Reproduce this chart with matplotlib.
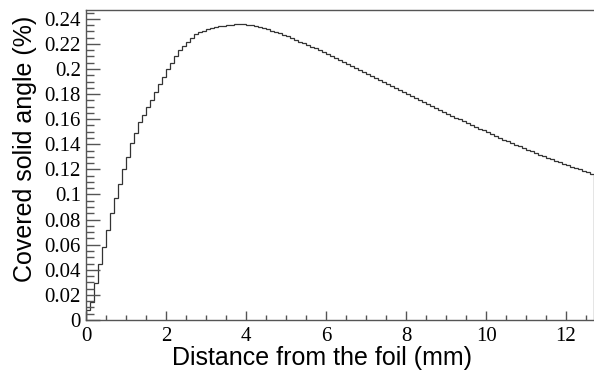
import numpy as np
import matplotlib.pyplot as plt
from matplotlib.ticker import MultipleLocator

# histogram: 0.1 mm bins from 0 to 12.7 mm
bin_width = 0.1
n_bins = 127
solid_angle = [
    0.008, 0.0143, 0.0295, 0.0446, 0.058, 0.072, 0.085, 0.097, 0.108, 0.120,
    0.130, 0.141, 0.149, 0.158, 0.163, 0.170, 0.175, 0.182, 0.188, 0.194,
    0.200, 0.205, 0.2105, 0.215, 0.2186, 0.2215, 0.2245, 0.2275, 0.2292, 0.2305,
    0.2316, 0.2325, 0.2333, 0.2339, 0.2344, 0.2348, 0.2352, 0.2355, 0.2356, 0.2355,
    0.2352, 0.2347, 0.2341, 0.2333, 0.2325, 0.2316, 0.2306, 0.2295, 0.2284, 0.2272,
    0.2259, 0.2246, 0.2232, 0.2218, 0.2205, 0.2191, 0.2178, 0.2165, 0.2151, 0.2136,
    0.2120, 0.2104, 0.2088, 0.2072, 0.2056, 0.2040, 0.2024, 0.2008, 0.1992, 0.1976,
    0.1960, 0.1944, 0.1928, 0.1912, 0.1896, 0.1880, 0.1865, 0.1849, 0.1833, 0.1817,
    0.1801, 0.1785, 0.1769, 0.1753, 0.1737, 0.1721, 0.1705, 0.1689, 0.1673, 0.1658,
    0.1643, 0.1628, 0.1613, 0.1598, 0.1583, 0.1568, 0.1553, 0.1538, 0.1524, 0.1510,
    0.1495, 0.1481, 0.1466, 0.1452, 0.1438, 0.1424, 0.1410, 0.1397, 0.1383, 0.1370,
    0.1357, 0.1344, 0.1331, 0.1318, 0.1306, 0.1294, 0.1282, 0.1270, 0.1258, 0.1246,
    0.1235, 0.1223, 0.1212, 0.1200, 0.1189, 0.1178, 0.1167,
]
edges = np.arange(n_bins + 1) * bin_width

fig = plt.figure(figsize=(5.94, 3.71), dpi=100)
ax = fig.add_axes([0.1456, 0.1375, 0.8544, 0.8355])

ax.stairs(solid_angle, edges, color='#333333', linewidth=0.9, baseline=0)

ax.set_xlim(0, 12.7)
ax.set_ylim(0, 0.247)

ax.xaxis.set_major_locator(MultipleLocator(2))
ax.xaxis.set_minor_locator(MultipleLocator(0.5))
ax.yaxis.set_major_locator(MultipleLocator(0.02))
ax.yaxis.set_minor_locator(MultipleLocator(0.005))
ax.yaxis.set_major_formatter(plt.FuncFormatter(lambda v, p: ('%g' % round(v, 3))))

ax.tick_params(axis='both', which='both', direction='in', color='#555555',
               labelsize=15, width=1.0)
ax.tick_params(axis='x', which='major', length=6.5, pad=5)
ax.tick_params(axis='x', which='minor', length=3.6)
ax.tick_params(axis='y', which='major', length=10, pad=4)
ax.tick_params(axis='y', which='minor', length=5.5)
for lab in ax.get_xticklabels() + ax.get_yticklabels():
    lab.set_family('Liberation Serif')

ax.spines['right'].set_visible(False)
for s in ['left', 'bottom', 'top']:
    ax.spines[s].set_color('#555555')
    ax.spines[s].set_linewidth(1.0)

ax.set_xlabel("Distance from the foil (mm)", family='Liberation Sans',
              fontsize=18, labelpad=0)
ax.set_ylabel("Covered solid angle (%)", family='Liberation Sans',
              fontsize=18, labelpad=2)
ax.xaxis.set_label_coords(0.464, -0.083)
ax.yaxis.set_label_coords(-0.097, 0.553)

fig.savefig("out.png", dpi=100)
